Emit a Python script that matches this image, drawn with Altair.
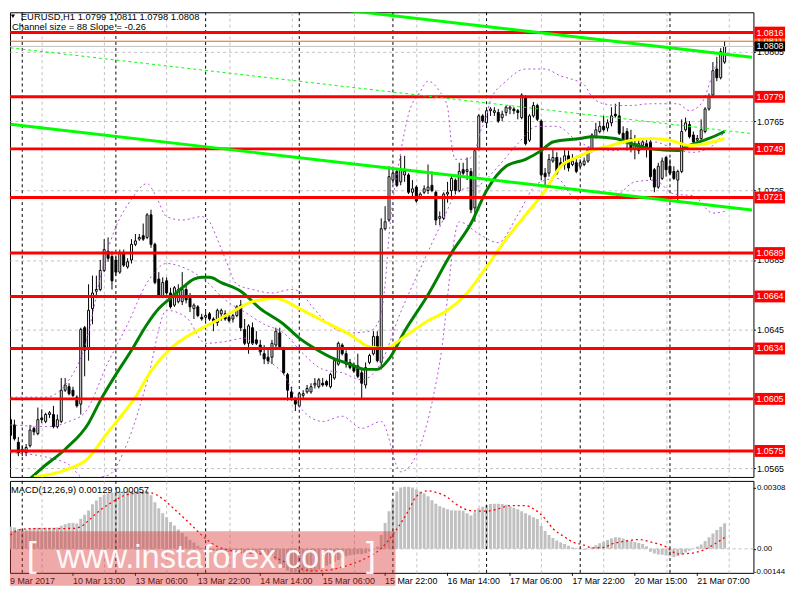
import altair as alt
import pandas as pd

# ---------------- data ----------------
OPEN = [1.0593,1.0590,1.0580,1.0575,1.0574,1.0578,1.0588,1.0585,1.0594,1.0592,
1.0596,1.0596,1.0589,1.0592,1.0610,1.0612,1.0610,1.0606,1.0602,1.0646,
1.0634,1.0657,1.0667,1.0668,1.0679,1.0690,1.0687,1.0685,1.0678,1.0689,
1.0681,1.0685,1.0694,1.0697,1.0699,1.0698,1.0711,1.0694,1.0674,1.0664,
1.0673,1.0666,1.0659,1.0661,1.0661,1.0668,1.0663,1.0657,1.0658,1.0652,
1.0652,1.0654,1.0651,1.0649,1.0654,1.0654,1.0652,1.0651,1.0653,1.0659,
1.0645,1.0637,1.0646,1.0639,1.0636,1.0631,1.0629,1.0629,1.0636,1.0643,
1.0634,1.0619,1.0609,1.0605,1.0601,1.0607,1.0609,1.0609,1.0613,1.0612,
1.0614,1.0615,1.0612,1.0617,1.0625,1.0636,1.0631,1.0626,1.0624,1.0624,
1.0620,1.0613,1.0626,1.0631,1.0641,1.0626,1.0703,1.0708,1.0731,1.0736,
1.0730,1.0734,1.0734,1.0724,1.0727,1.0721,1.0724,1.0725,1.0728,1.0724,
1.0709,1.0709,1.0723,1.0725,1.0731,1.0725,1.0737,1.0736,1.0736,1.0715,
1.0749,1.0768,1.0764,1.0771,1.0770,1.0770,1.0767,1.0770,1.0772,1.0772,
1.0771,1.0767,1.0779,1.0754,1.0768,1.0774,1.0765,1.0735,1.0735,1.0742,
1.0744,1.0741,1.0740,1.0745,1.0740,1.0741,1.0739,1.0740,1.0742,1.0749,
1.0756,1.0759,1.0762,1.0761,1.0764,1.0769,1.0768,1.0758,1.0759,1.0755,
1.0749,1.0748,1.0751,1.0752,1.0753,1.0737,1.0727,1.0732,1.0744,1.0739,
1.0736,1.0731,1.0736,1.0760,1.0763,1.0757,1.0754,1.0755,1.0759,1.0772,
1.0780,1.0795,1.0790,1.0799]
HIGH = [1.0595,1.0593,1.0583,1.0578,1.0579,1.0590,1.0589,1.0600,1.0599,1.0597,
1.0598,1.0601,1.0596,1.0617,1.0617,1.0614,1.0612,1.0607,1.0646,1.0647,
1.0671,1.0676,1.0676,1.0685,1.0697,1.0698,1.0690,1.0687,1.0691,1.0691,
1.0686,1.0697,1.0700,1.0700,1.0706,1.0712,1.0714,1.0695,1.0678,1.0675,
1.0675,1.0669,1.0670,1.0671,1.0678,1.0671,1.0666,1.0660,1.0659,1.0654,
1.0655,1.0655,1.0652,1.0657,1.0657,1.0656,1.0654,1.0654,1.0659,1.0662,
1.0651,1.0648,1.0649,1.0644,1.0639,1.0636,1.0634,1.0639,1.0646,1.0646,
1.0635,1.0620,1.0612,1.0606,1.0609,1.0610,1.0613,1.0614,1.0617,1.0617,
1.0617,1.0616,1.0620,1.0628,1.0638,1.0637,1.0633,1.0628,1.0626,1.0631,
1.0623,1.0626,1.0631,1.0644,1.0644,1.0709,1.0716,1.0739,1.0738,1.0737,
1.0745,1.0745,1.0735,1.0731,1.0728,1.0724,1.0728,1.0740,1.0736,1.0725,
1.0713,1.0724,1.0730,1.0734,1.0732,1.0741,1.0741,1.0744,1.0738,1.0749,
1.0769,1.0769,1.0772,1.0773,1.0773,1.0772,1.0771,1.0774,1.0774,1.0773,
1.0772,1.0781,1.0780,1.0769,1.0776,1.0775,1.0766,1.0738,1.0746,1.0749,
1.0747,1.0744,1.0749,1.0748,1.0746,1.0745,1.0743,1.0744,1.0750,1.0758,
1.0764,1.0765,1.0768,1.0766,1.0773,1.0775,1.0776,1.0762,1.0761,1.0760,
1.0757,1.0754,1.0754,1.0755,1.0754,1.0738,1.0741,1.0744,1.0745,1.0743,
1.0739,1.0737,1.0766,1.0767,1.0765,1.0759,1.0757,1.0766,1.0773,1.0781,
1.0799,1.0802,1.0807,1.0811]
LOW = [1.0581,1.0581,1.0572,1.0572,1.0572,1.0577,1.0584,1.0584,1.0591,1.0591,
1.0594,1.0588,1.0588,1.0591,1.0609,1.0607,1.0606,1.0600,1.0596,1.0618,
1.0627,1.0648,1.0663,1.0667,1.0678,1.0684,1.0668,1.0676,1.0677,1.0681,
1.0680,1.0683,1.0693,1.0696,1.0696,1.0697,1.0692,1.0671,1.0663,1.0663,
1.0665,1.0657,1.0658,1.0660,1.0659,1.0660,1.0655,1.0651,1.0652,1.0650,
1.0650,1.0650,1.0644,1.0647,1.0650,1.0650,1.0649,1.0649,1.0652,1.0644,
1.0636,1.0631,1.0636,1.0636,1.0630,1.0625,1.0625,1.0625,1.0634,1.0634,
1.0619,1.0604,1.0604,1.0598,1.0600,1.0605,1.0608,1.0608,1.0611,1.0611,
1.0612,1.0612,1.0611,1.0616,1.0624,1.0630,1.0623,1.0622,1.0620,1.0617,
1.0605,1.0611,1.0625,1.0630,1.0626,1.0622,1.0702,1.0707,1.0729,1.0727,
1.0728,1.0730,1.0723,1.0721,1.0718,1.0720,1.0723,1.0723,1.0724,1.0705,
1.0705,1.0708,1.0718,1.0720,1.0723,1.0724,1.0734,1.0731,1.0712,1.0707,
1.0748,1.0764,1.0761,1.0768,1.0768,1.0764,1.0765,1.0768,1.0769,1.0769,
1.0766,1.0766,1.0751,1.0753,1.0767,1.0765,1.0731,1.0728,1.0733,1.0741,
1.0734,1.0738,1.0737,1.0736,1.0739,1.0735,1.0738,1.0739,1.0741,1.0747,
1.0755,1.0758,1.0759,1.0759,1.0762,1.0767,1.0757,1.0752,1.0748,1.0747,
1.0743,1.0746,1.0750,1.0744,1.0731,1.0724,1.0726,1.0731,1.0733,1.0734,
1.0731,1.0718,1.0735,1.0759,1.0755,1.0752,1.0752,1.0754,1.0758,1.0771,
1.0779,1.0788,1.0789,1.0798]
CLOSE = [1.0584,1.0582,1.0574,1.0576,1.0577,1.0587,1.0586,1.0593,1.0593,1.0596,
1.0597,1.0589,1.0593,1.0610,1.0613,1.0608,1.0607,1.0601,1.0645,1.0633,
1.0656,1.0666,1.0668,1.0679,1.0691,1.0686,1.0673,1.0678,1.0689,1.0682,
1.0684,1.0694,1.0696,1.0698,1.0697,1.0711,1.0694,1.0672,1.0664,1.0672,
1.0666,1.0658,1.0669,1.0668,1.0668,1.0662,1.0658,1.0659,1.0653,1.0651,
1.0653,1.0651,1.0649,1.0656,1.0656,1.0651,1.0650,1.0653,1.0658,1.0646,
1.0637,1.0647,1.0637,1.0637,1.0632,1.0628,1.0627,1.0637,1.0644,1.0635,
1.0620,1.0610,1.0605,1.0602,1.0608,1.0608,1.0611,1.0612,1.0614,1.0616,
1.0613,1.0613,1.0619,1.0627,1.0637,1.0631,1.0625,1.0623,1.0621,1.0618,
1.0614,1.0623,1.0630,1.0641,1.0627,1.0703,1.0707,1.0733,1.0735,1.0728,
1.0737,1.0736,1.0724,1.0726,1.0719,1.0723,1.0726,1.0727,1.0725,1.0708,
1.0710,1.0723,1.0724,1.0732,1.0725,1.0736,1.0735,1.0737,1.0714,1.0748,
1.0768,1.0765,1.0771,1.0772,1.0771,1.0765,1.0769,1.0773,1.0773,1.0771,
1.0770,1.0780,1.0752,1.0768,1.0774,1.0766,1.0734,1.0733,1.0743,1.0744,
1.0735,1.0739,1.0745,1.0738,1.0742,1.0736,1.0741,1.0742,1.0749,1.0757,
1.0760,1.0762,1.0760,1.0764,1.0768,1.0768,1.0758,1.0753,1.0753,1.0749,
1.0752,1.0752,1.0753,1.0750,1.0733,1.0727,1.0739,1.0742,1.0737,1.0735,
1.0732,1.0736,1.0759,1.0764,1.0756,1.0753,1.0755,1.0760,1.0772,1.0779,
1.0794,1.0790,1.0805,1.0808]

MACD_HIST = [0.00113,0.00108,0.00100,0.00097,0.00098,0.00102,0.00105,0.00106,0.00106,0.00106,
0.00107,0.00106,0.00108,0.00116,0.00124,0.00130,0.00130,0.00128,0.00152,0.00172,
0.00194,0.00225,0.00244,0.00262,0.00272,0.00280,0.00285,0.00288,0.00290,0.00290,
0.00290,0.00291,0.00291,0.00290,0.00290,0.00291,0.00270,0.00235,0.00205,0.00180,
0.00160,0.00135,0.00118,0.00098,0.00080,0.00062,0.00045,0.00032,0.00015,0.00005,
-0.00005,-0.00008,-0.00010,-0.00012,-0.00014,-0.00015,-0.00016,-0.00015,-0.00014,-0.00016,
-0.00020,-0.00022,-0.00023,-0.00024,-0.00025,-0.00027,-0.00030,-0.00034,-0.00055,-0.00075,
-0.00095,-0.00110,-0.00122,-0.00130,-0.00132,-0.00130,-0.00126,-0.00120,-0.00113,-0.00105,
-0.00096,-0.00086,-0.00076,-0.00066,-0.00056,-0.00046,-0.00038,-0.00032,-0.00028,-0.00026,
-0.00027,-0.00022,-0.00014,-0.00004,0.00010,0.00070,0.00130,0.00190,0.00245,0.00290,
0.00310,0.00313,0.00313,0.00310,0.00300,0.00290,0.00280,0.00265,0.00245,0.00228,
0.00215,0.00207,0.00200,0.00195,0.00193,0.00193,0.00192,0.00180,0.00168,0.00185,
0.00205,0.00213,0.00220,0.00226,0.00227,0.00227,0.00226,0.00223,0.00215,0.00208,
0.00200,0.00190,0.00180,0.00170,0.00160,0.00150,0.00115,0.00090,0.00070,0.00055,
0.00042,0.00032,0.00024,0.00015,0.00008,0.00004,-0.00002,-0.00005,-0.00002,0.00008,
0.00018,0.00028,0.00036,0.00045,0.00052,0.00058,0.00057,0.00052,0.00046,0.00040,
0.00035,0.00030,0.00025,0.00013,-0.00015,-0.00024,-0.00028,-0.00030,-0.00034,-0.00038,
-0.00042,-0.00036,-0.00028,-0.00018,-0.00008,0.00002,0.00012,0.00022,0.00040,0.00058,
0.00078,0.00095,0.00112,0.00129]

SIGNAL_I = [0,2,5,10,16,18,20,22,26,29,32,36,39,42,46,49,52,56,59,64,67,71,74,78,82,87,91,95,
            99,102,104,107,109,112,114,118,122,125,128,132,134,137,139,142,144,147,149,152,154,
            158,161,164,168,171,174,178,180,183]
SIGNAL_V = [0.00069,0.00095,0.00102,0.00102,0.00103,0.00112,0.00143,0.00180,0.00235,0.00268,
            0.00280,0.00282,0.00252,0.00200,0.00127,0.00069,0.00022,-0.00007,-0.00018,-0.00026,
            -0.00038,-0.00073,-0.00098,-0.00112,-0.00106,-0.00080,-0.00048,0.00002,
            0.00100,0.00193,0.00265,0.00293,0.00285,0.00260,0.00228,0.00193,0.00190,0.00202,
            0.00218,0.00218,0.00202,0.00152,0.00102,0.00060,0.00035,0.00019,0.00005,0.00007,
            0.00024,0.00040,0.00047,0.00035,0.00010,-0.00026,-0.00023,-0.00003,0.00019,0.00057]

MA_GREEN_I = [5,8,14,20,23,27,31,35,38,41,44,47,49,51,54,59,64,70,74,78,83,87,91,94,97,101,
              107,113,118,122,127,132,136,139,146,149,155,159,164,171,174,179,183]
MA_GREEN_P = [1.0559,1.0565,1.0576,1.0591,1.0604,1.0619,1.0633,1.0648,1.0657,1.0663,1.0669,
              1.0674,1.0675,1.0675,1.0672,1.0667,1.0657,1.0648,1.0640,1.0634,1.0628,1.0625,
              1.0622,1.0622,1.0628,1.0644,1.0665,1.0689,1.0706,1.0725,1.0739,1.0743,1.0748,
              1.0753,1.0755,1.0756,1.0755,1.0752,1.0749,1.0748,1.0751,1.0755,1.0759]
MA_YELLOW_I = [6,14,20,24,29,32,36,41,46,51,56,62,68,74,80,87,92,96,101,107,112,117,122,127,
               132,137,141,145,149,154,159,164,169,174,178,183]
MA_YELLOW_P = [1.0560,1.0564,1.0571,1.0583,1.0597,1.0606,1.0621,1.0634,1.0642,1.0648,1.0654,
               1.0661,1.0663,1.0657,1.0650,1.0642,1.0635,1.0634,1.0641,1.0650,1.0656,1.0666,
               1.0681,1.0697,1.0711,1.0725,1.0739,1.0744,1.0748,1.0751,1.0754,1.0755,1.0754,
               1.0751,1.0752,1.0755]
BB_UP_I = [0,9,14,19,24,27,31,35,37,40,44,49,51,53,55,58,62,67,72,74,77,82,87,92,94,96,97,
           100,102,105,107,110,112,113,114,117,119,120,122,123,127,132,137,141,144,147,149,
           152,156,159,164,171,174,177,181,183]
BB_UP_P = [1.0606,1.0606,1.0613,1.0635,1.0684,1.0704,1.0720,1.0729,1.0723,1.0710,1.0708,
           1.0710,1.0707,1.0697,1.0686,1.0671,1.0668,1.0666,1.0668,1.0667,1.0659,1.0647,
           1.0643,1.0644,1.0648,1.0671,1.0699,1.0747,1.0769,1.0782,1.0788,1.0782,1.0773,
           1.0752,1.0743,1.0743,1.0747,1.0756,1.0768,1.0777,1.0788,1.0795,1.0795,1.0791,
           1.0789,1.0786,1.0779,1.0775,1.0774,1.0774,1.0775,1.0775,1.0771,1.0775,1.0798,1.0805]
BB_MID_I = [0,10,15,19,25,30,35,40,45,50,55,60,65,70,75,80,85,90,95,100,105,110,115,120,
            125,130,135,140,145,150,155,160,165,170,175,180,183]
BB_MID_P = [1.0590,1.0589,1.0592,1.0597,1.0626,1.0648,1.0672,1.0683,1.0680,1.0673,1.0662,
            1.0655,1.0648,1.0643,1.0631,1.0622,1.0620,1.0616,1.0626,1.0655,1.0680,1.0704,
            1.0725,1.0728,1.0739,1.0752,1.0762,1.0762,1.0754,1.0749,1.0748,1.0752,1.0753,
            1.0749,1.0747,1.0751,1.0759]
BB_LOW_I = BB_MID_I
BB_LOW_P = [1.0574,1.0571,1.0567,1.0559,1.0561,1.0580,1.0615,1.0656,1.0652,1.0637,1.0638,
            1.0640,1.0629,1.0619,1.0598,1.0592,1.0595,1.0588,1.0592,1.0563,1.0578,1.0626,
            1.0707,1.0700,1.0695,1.0711,1.0729,1.0732,1.0720,1.0721,1.0722,1.0730,1.0731,
            1.0723,1.0722,1.0712,1.0713]

LEVELS = [1.0816, 1.0779, 1.0749, 1.0721, 1.0689, 1.0664, 1.0634, 1.0605, 1.0575]
BID_PRICE = 1.0808
ASK_PRICE = 1.0811
PRICE_TICKS = [1.0565, 1.0585, 1.0605, 1.0625, 1.0645, 1.0665, 1.0685, 1.0705,
               1.0725, 1.0745, 1.0765, 1.0785, 1.0805, 1.0825]
MACD_TICKS = [0.00308, 0.0]
MACD_MIN_LABEL = "-0.00144"
DAY_STARTS = [3, 27, 50, 74, 98, 122, 146, 169]
TIME_LABEL_BARS = [0, 16, 32, 48, 64, 80, 96, 112, 128, 144, 160, 176]
TIME_LABELS = ["9 Mar 2017", "10 Mar 13:00", "13 Mar 06:00", "13 Mar 22:00", "14 Mar 14:00",
               "15 Mar 06:00", "15 Mar 22:00", "16 Mar 14:00", "17 Mar 06:00", "17 Mar 22:00",
               "20 Mar 15:00", "21 Mar 07:00"]
CHANNEL_I = [0, 190]
CHANNEL_LOWER = [1.07632, 1.07138]
CHANNEL_SIZE = 0.0088

TITLE = "EURUSD,H1  1.0799 1.0811 1.0798 1.0808"
SUBTITLE = "Channel size = 88 Slope = -0.26"
MACD_TITLE = "MACD(12,26,9) 0.00129 0.00057"
WATERMARK = "www.instaforex.com"

# ---------------- layout ----------------
W, H, HM = 752, 470, 93
FONT = "Liberation Sans"
XS = alt.Scale(domain=[1.125, 189.125], nice=False, zero=False)
YS = alt.Scale(domain=[1.056002, 1.082768], nice=False, zero=False)
MS = alt.Scale(domain=[-0.001213, 0.003429], nice=False, zero=False)
GRID_DASH = [3, 3]
GRID_COLOR = "#C0C0C0"
BB_COLOR = "#B050D8"
grid_vals = list(range(8, 190, 8))

n = len(CLOSE)
bars = pd.DataFrame({"i": list(range(n)), "open": OPEN, "high": HIGH,
                     "low": LOW, "close": CLOSE})
bars["dir"] = ["up" if c >= o else "down" for o, c in zip(OPEN, CLOSE)]

x_axis_grid = alt.Axis(values=grid_vals, grid=True, gridDash=GRID_DASH, gridColor=GRID_COLOR,
                       labels=False, ticks=False, domain=False, title=None)
y_axis_main = alt.Axis(orient="right", values=PRICE_TICKS, format=".4f", grid=True,
                       gridDash=GRID_DASH, gridColor=GRID_COLOR, tickSize=2, tickColor="black",
                       labelFont=FONT, labelFontSize=9, labelColor="black", labelPadding=1,
                       domain=False, title=None, labelOverlap=False)

wicks = alt.Chart(bars).mark_rule(color="black", strokeWidth=1, clip=True).encode(
    x=alt.X("i:Q", scale=XS, axis=x_axis_grid),
    y=alt.Y("low:Q", scale=YS, axis=y_axis_main),
    y2="high:Q")
bodies = alt.Chart(bars).mark_bar(size=2, stroke="black", strokeWidth=1, orient="vertical",
                                  clip=True).encode(
    x=alt.X("i:Q", scale=XS),
    y=alt.Y("open:Q", scale=YS),
    y2="close:Q",
    fill=alt.Fill("dir:N", scale=alt.Scale(domain=["up", "down"], range=["white", "black"]),
                  legend=None))

days_df = pd.DataFrame({"i": DAY_STARTS})
day_main = alt.Chart(days_df).mark_rule(color="black", strokeDash=[3, 3], strokeWidth=1).encode(
    x=alt.X("i:Q", scale=XS))


def line_layer(idx, vals, color, width, dash=None, interp="monotone", scale=YS):
    df = pd.DataFrame({"i": idx, "v": vals})
    kw = dict(color=color, strokeWidth=width, interpolate=interp, clip=True)
    if dash:
        kw["strokeDash"] = dash
    return alt.Chart(df).mark_line(**kw).encode(
        x=alt.X("i:Q", scale=XS), y=alt.Y("v:Q", scale=scale))


bb_up = line_layer(BB_UP_I, BB_UP_P, BB_COLOR, 1, dash=[2, 3])
bb_mid = line_layer(BB_MID_I, BB_MID_P, BB_COLOR, 1, dash=[2, 3])
bb_low = line_layer(BB_LOW_I, BB_LOW_P, BB_COLOR, 1, dash=[2, 3])
ma_green = line_layer(MA_GREEN_I, MA_GREEN_P, "#008000", 3)
ma_yellow = line_layer(MA_YELLOW_I, MA_YELLOW_P, "#FFFF00", 3)

chan_df = pd.DataFrame({"i": CHANNEL_I, "lower": CHANNEL_LOWER})
chan_base = alt.Chart(chan_df).transform_calculate(
    upper=f"datum.lower + {CHANNEL_SIZE}", mid=f"datum.lower + {CHANNEL_SIZE / 2}")
chan_lower = chan_base.mark_line(color="#00FF00", strokeWidth=3, clip=True).encode(
    x=alt.X("i:Q", scale=XS), y=alt.Y("lower:Q", scale=YS))
chan_upper = chan_base.mark_line(color="#00FF00", strokeWidth=3, clip=True).encode(
    x=alt.X("i:Q", scale=XS), y=alt.Y("upper:Q", scale=YS))
chan_mid = chan_base.mark_line(color="#00FF00", strokeWidth=1, strokeDash=[3, 3], clip=True).encode(
    x=alt.X("i:Q", scale=XS), y=alt.Y("mid:Q", scale=YS))

lv_df = pd.DataFrame({"p": LEVELS})
levels = alt.Chart(lv_df).mark_rule(color="#FF0000", strokeWidth=3).encode(
    y=alt.Y("p:Q", scale=YS))
bid_df = pd.DataFrame({"p": [BID_PRICE]})
ask_df = pd.DataFrame({"p": [ASK_PRICE]})
bid_line = alt.Chart(bid_df).mark_rule(color="#C0C0C0", strokeWidth=1).encode(y=alt.Y("p:Q", scale=YS))
ask_line = alt.Chart(ask_df).mark_rule(color="#FF5A00", strokeWidth=1).encode(y=alt.Y("p:Q", scale=YS))


def price_box(df, color, h=12):
    box = alt.Chart(df).mark_rule(color=color, strokeWidth=h).encode(
        y=alt.Y("p:Q", scale=YS), x=alt.value(W + 1), x2=alt.value(W + 32))
    txt = alt.Chart(df).mark_text(color="white", font=FONT, fontSize=9, align="left",
                                  baseline="middle").encode(
        y=alt.Y("p:Q", scale=YS), x=alt.value(W + 3), text=alt.Text("p:Q", format=".4f"))
    return [box, txt]


hdr_df = pd.DataFrame({"t": [TITLE]})
sub_df = pd.DataFrame({"t": [SUBTITLE]})
header = alt.Chart(hdr_df).mark_text(font=FONT, fontSize=9.5, align="left", baseline="top",
                                     color="black").encode(
    text="t:N", x=alt.value(11), y=alt.value(0))
tri = alt.Chart(hdr_df).mark_point(shape="triangle-down", filled=True, color="black",
                                   size=18, opacity=1).encode(x=alt.value(3), y=alt.value(4))
subheader = alt.Chart(sub_df).mark_text(font=FONT, fontSize=9.5, align="left", baseline="middle",
                                        color="black").encode(
    text="t:N", x=alt.value(2), y=alt.value(15))

main = alt.layer(
    wicks, day_main, bodies, bb_up, bb_mid, bb_low, ma_green, ma_yellow, bid_line, ask_line,
    levels, chan_mid, chan_lower, chan_upper,
    *price_box(ask_df, "#FF5A00"), *price_box(lv_df, "#FF0000"), *price_box(bid_df, "#000000", 10),
    header, tri, subheader
).properties(width=W, height=H)

# ---------------- MACD panel ----------------
macd_df = pd.DataFrame({"i": list(range(n)), "v": MACD_HIST})
y_axis_macd = alt.Axis(orient="right", values=MACD_TICKS,
                       labelExpr="datum.value === 0 ? '0.00' : format(datum.value, '.5f')",
                       grid=False, tickSize=2, tickColor="black", labelFont=FONT, labelFontSize=8,
                       labelColor="black", labelPadding=1, domain=False, title=None,
                       labelOverlap=False)
hist = alt.Chart(macd_df).mark_bar(size=3, color="#C0C0C0", orient="vertical", clip=True).encode(
    x=alt.X("i:Q", scale=XS, axis=x_axis_grid),
    y=alt.Y("v:Q", scale=MS, axis=y_axis_macd),
    y2=alt.datum(0))
zero_df = pd.DataFrame({"v": [0.0]})
zero_line = alt.Chart(zero_df).mark_rule(color=GRID_COLOR, strokeDash=GRID_DASH).encode(
    y=alt.Y("v:Q", scale=MS))
day_macd = alt.Chart(days_df).mark_rule(color="black", strokeDash=[3, 3], strokeWidth=1).encode(
    x=alt.X("i:Q", scale=XS))
signal = line_layer(SIGNAL_I, SIGNAL_V, "#FF0000", 1.3, dash=[2, 3], scale=MS)
macd_hdr = alt.Chart(pd.DataFrame({"t": [MACD_TITLE]})).mark_text(
    font=FONT, fontSize=9.5, align="left", baseline="middle", color="black").encode(
    text="t:N", x=alt.value(1), y=alt.value(9))
min_lbl = alt.Chart(pd.DataFrame({"t": [MACD_MIN_LABEL]})).mark_text(
    font=FONT, fontSize=8, align="right", baseline="middle", color="black").encode(
    text="t:N", x=alt.value(W + 32), y=alt.value(HM - 1))

# time labels under the MACD panel
tl_df = pd.DataFrame({"i": TIME_LABEL_BARS[1:], "t": TIME_LABELS[1:]})
time_lbls = alt.Chart(tl_df).mark_text(font=FONT, fontSize=9, align="left", baseline="top",
                                       color="black").encode(
    x=alt.X("i:Q", scale=XS), y=alt.value(HM + 4), text="t:N")
time_ticks = alt.Chart(tl_df).mark_rule(color="black", strokeWidth=1).encode(
    x=alt.X("i:Q", scale=XS), y=alt.value(HM), y2=alt.value(HM + 3))
first_lbl = alt.Chart(pd.DataFrame({"t": [TIME_LABELS[0]]})).mark_text(
    font=FONT, fontSize=9, align="left", baseline="top", color="black").encode(
    text="t:N", x=alt.value(0), y=alt.value(HM + 4))

wm_df = pd.DataFrame({"t": [WATERMARK]})
wm_rect = alt.Chart(wm_df).mark_rect(color="#DC3232", opacity=0.42).encode(
    x=alt.value(0), x2=alt.value(390), y=alt.value(51), y2=alt.value(106))
wm_text = alt.Chart(wm_df).mark_text(font=FONT, fontSize=33, align="left",
                                     baseline="alphabetic", color="white", opacity=0.92).encode(
    text="t:N", x=alt.value(47), y=alt.value(88))
wm_l = alt.Chart(pd.DataFrame({"t": ["["]})).mark_text(
    font=FONT, fontSize=36, align="left", baseline="alphabetic",
    color="white", opacity=0.92).encode(text="t:N", x=alt.value(17), y=alt.value(87))
wm_r = alt.Chart(pd.DataFrame({"t": ["]"]})).mark_text(
    font=FONT, fontSize=36, align="left", baseline="alphabetic",
    color="white", opacity=0.92).encode(text="t:N", x=alt.value(360), y=alt.value(87))

macd = alt.layer(zero_line, hist, day_macd, signal, macd_hdr, min_lbl,
                 time_ticks, time_lbls, first_lbl,
                 wm_rect, wm_l, wm_text, wm_r).properties(width=W, height=HM)

chart = alt.vconcat(main, macd, spacing=2).properties(
    padding=0, background="white"
).configure_view(stroke="black", strokeWidth=1)

chart.save("out.html", embed_options={"renderer": "svg", "actions": False})
